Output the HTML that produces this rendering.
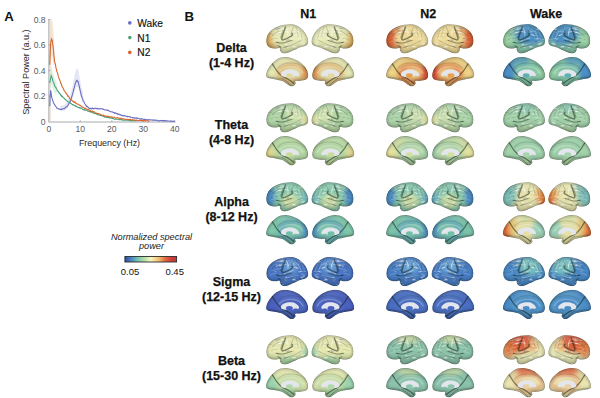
<!DOCTYPE html>
<html><head><meta charset="utf-8"><style>
html,body{margin:0;padding:0;background:#fff;}
svg{display:block;}
</style></head><body>
<svg width="600" height="398" viewBox="0 0 600 398">
<defs><path id="sL" d="M0.40,16.50 C0.45,15.08 0.62,13.12 1.30,11.50 C1.98,9.88 3.05,8.17 4.50,6.80 C5.95,5.43 7.75,4.30 10.00,3.30 C12.25,2.30 15.50,1.32 18.00,0.80 C20.50,0.28 23.00,0.13 25.00,0.20 C27.00,0.27 28.33,0.53 30.00,1.20 C31.67,1.87 33.50,2.98 35.00,4.20 C36.50,5.42 37.90,6.95 39.00,8.50 C40.10,10.05 41.07,12.00 41.60,13.50 C42.13,15.00 42.23,16.42 42.20,17.50 C42.17,18.58 41.93,19.32 41.40,20.00 C40.87,20.68 39.90,21.20 39.00,21.60 C38.10,22.00 37.33,21.97 36.00,22.40 C34.67,22.83 32.50,23.60 31.00,24.20 C29.50,24.80 28.50,25.33 27.00,26.00 C25.50,26.67 23.42,27.72 22.00,28.20 C20.58,28.68 19.58,28.93 18.50,28.90 C17.42,28.87 16.25,28.57 15.50,28.00 C14.75,27.43 14.33,26.23 14.00,25.50 C13.67,24.77 14.17,23.85 13.50,23.60 C12.83,23.35 11.25,23.97 10.00,24.00 C8.75,24.03 7.17,24.05 6.00,23.80 C4.83,23.55 3.83,23.13 3.00,22.50 C2.17,21.87 1.43,21.00 1.00,20.00 C0.57,19.00 0.35,17.92 0.40,16.50 Z"/><path id="sM" d="M0.15,16.80 C0.32,15.71 0.68,14.07 1.50,12.45 C2.32,10.83 3.71,8.68 5.05,7.10 C6.39,5.52 8.04,4.01 9.55,2.95 C11.06,1.89 12.44,1.18 14.10,0.73 C15.76,0.28 17.56,0.12 19.50,0.25 C21.44,0.38 23.65,0.78 25.75,1.50 C27.85,2.23 30.23,3.35 32.10,4.60 C33.98,5.85 35.70,7.41 37.00,9.00 C38.30,10.59 39.33,12.53 39.90,14.15 C40.47,15.77 40.64,17.44 40.40,18.70 C40.16,19.96 39.68,21.01 38.45,21.70 C37.22,22.39 34.71,22.61 33.00,22.85 C31.29,23.09 28.96,22.72 28.20,23.15 C27.44,23.58 28.74,24.68 28.45,25.45 C28.16,26.22 27.34,27.37 26.45,27.75 C25.56,28.13 24.31,28.18 23.10,27.75 C21.89,27.32 20.52,26.01 19.20,25.20 C17.88,24.39 16.90,23.52 15.20,22.90 C13.50,22.28 11.03,21.91 9.00,21.50 C6.97,21.09 4.42,20.87 3.00,20.45 C1.58,20.03 0.98,19.61 0.50,19.00 C0.02,18.39 -0.02,17.89 0.15,16.80 Z"/><clipPath id="clipL"><use href="#sL"/></clipPath><clipPath id="clipM"><use href="#sM"/></clipPath><linearGradient id="shade" x1="0" y1="0" x2="0" y2="1"><stop offset="0" stop-color="#fff" stop-opacity="0.12"/><stop offset="0.5" stop-color="#000" stop-opacity="0"/><stop offset="1" stop-color="#000" stop-opacity="0.18"/></linearGradient><g id="detL"><rect x="0" y="0" width="43" height="30" fill="url(#shade)"/><rect x="0" y="0" width="43" height="30" fill="#fff" opacity="0.95" filter="url(#texW)"/><rect x="0" y="0" width="43" height="30" fill="#000" opacity="0.5" filter="url(#texD)"/><path d="M21,5 C22,7 22.5,9 22,11" fill="none" stroke="#fff" stroke-opacity="0.5" stroke-width="1.0" stroke-linecap="round"/><path d="M18,16.8 C21,16 24,15 27,13.5" fill="none" stroke="#fff" stroke-opacity="0.45" stroke-width="0.9" stroke-linecap="round"/><path d="M30,6 C32,8 34,10 35,13" fill="none" stroke="#fff" stroke-opacity="0.4" stroke-width="0.8" stroke-linecap="round"/><path d="M33,15 C35,17 37,18 39,18" fill="none" stroke="#fff" stroke-opacity="0.35" stroke-width="0.7" stroke-linecap="round"/><path d="M20,21 C24,20 28,19 32,18" fill="none" stroke="#fff" stroke-opacity="0.4" stroke-width="0.8" stroke-linecap="round"/><path d="M7,14 C9,12.5 11,12 13,12" fill="none" stroke="#fff" stroke-opacity="0.35" stroke-width="0.7" stroke-linecap="round"/><path d="M12,4 C15,3 18,3 20,4" fill="none" stroke="#fff" stroke-opacity="0.35" stroke-width="0.7" stroke-linecap="round"/><path d="M26,4 C27,6 28,8 29,10" fill="none" stroke="#fff" stroke-opacity="0.4" stroke-width="0.7" stroke-linecap="round"/><path d="M4,18 C6,17 8,16.5 10,16.5" fill="none" stroke="#fff" stroke-opacity="0.3" stroke-width="0.6" stroke-linecap="round"/><path d="M9,8 C11,7 13,7 15,8" fill="none" stroke="#fff" stroke-opacity="0.3" stroke-width="0.6" stroke-linecap="round"/><path d="M36,7 C37,9 38,11 38.5,13" fill="none" stroke="#fff" stroke-opacity="0.3" stroke-width="0.6" stroke-linecap="round"/><path d="M19.5,3 C18,7 16.5,11 15.8,14.2 C15.6,15.5 16.5,15.8 18,15.3 C21,14.3 24,13 25.5,11.8 C26.5,11 26.8,10 26,9.5" fill="none" stroke="#101808" stroke-opacity="0.5" stroke-width="1.4" stroke-linecap="round"/><path d="M17,6.3 C16,9 15,11.5 14.6,13.7" fill="none" stroke="#101808" stroke-opacity="0.35" stroke-width="0.8" stroke-linecap="round"/><path d="M10.4,17.9 C13,18.6 15,18.8 17,18.7 C20,18.3 23,17 25.3,16.2" fill="none" stroke="#101808" stroke-opacity="0.4" stroke-width="1.0" stroke-linecap="round"/><path d="M6.3,11.3 C8.5,9.5 10.5,8 12.9,7.1" fill="none" stroke="#101808" stroke-opacity="0.3" stroke-width="0.7" stroke-linecap="round"/><path d="M12,21.2 C13,21.8 14,22.5 14.6,22.9" fill="none" stroke="#101808" stroke-opacity="0.4" stroke-width="1.0" stroke-linecap="round"/><path d="M18,23 C23,21.5 29,19.5 35,16" fill="none" stroke="#101808" stroke-opacity="0.28" stroke-width="0.7" stroke-linecap="round"/><path d="M27,4 C26,6 25.5,8 25,10" fill="none" stroke="#101808" stroke-opacity="0.28" stroke-width="0.7" stroke-linecap="round"/><path d="M30,3 C31,6 32,9 32,12" fill="none" stroke="#101808" stroke-opacity="0.22" stroke-width="0.6" stroke-linecap="round"/><path d="M34,6 C35,9 36,12 36,15" fill="none" stroke="#101808" stroke-opacity="0.2" stroke-width="0.6" stroke-linecap="round"/><path d="M5,15.5 C7,14.5 9,14 11,14.2" fill="none" stroke="#101808" stroke-opacity="0.22" stroke-width="0.6" stroke-linecap="round"/><path d="M8,4.5 C10,4 12,4 14,4.5" fill="none" stroke="#101808" stroke-opacity="0.2" stroke-width="0.5" stroke-linecap="round"/><use href="#sL" fill="none" stroke="#000" stroke-opacity="0.22" stroke-width="3" filter="url(#bl1)"/><use href="#sL" fill="none" stroke="#101810" stroke-opacity="0.25" stroke-width="0.8"/></g><g id="detM"><rect x="0" y="0" width="43" height="30" fill="url(#shade)"/><path d="M13,13.5 C16,10 21.5,9 26.5,9.5 C31,10 34,12.5 35.5,15.5" fill="none" stroke="#fff" stroke-opacity="0.25" stroke-width="1.3" stroke-linecap="round"/><path d="M5.7,6.3 C7.5,8.5 9,11.5 10.5,13.5 C12,15.5 13.5,17 15,18 C17.5,19.5 20,20.5 22,21.8 C24,23 25.5,24.2 26.5,25.2" fill="none" stroke="#101808" stroke-opacity="0.5" stroke-width="1.2" stroke-linecap="round"/><path d="M16,20.5 C19,22.5 22,25 24,27.5" fill="none" stroke="#101808" stroke-opacity="0.3" stroke-width="0.8" stroke-linecap="round"/><path d="M11,11 C14,7 20,5.5 26,6 C32,6.5 37,9.5 39.5,13.5" fill="none" stroke="#101808" stroke-opacity="0.15" stroke-width="1.0" stroke-linecap="round"/><path d="M2,19.5 C7,20 12,20.5 16.5,21" fill="none" stroke="#101808" stroke-opacity="0.2" stroke-width="0.7" stroke-linecap="round"/><use href="#sM" fill="none" stroke="#000" stroke-opacity="0.22" stroke-width="3" filter="url(#bl1)"/><use href="#sM" fill="none" stroke="#101810" stroke-opacity="0.25" stroke-width="0.8"/><path d="M13.8,15.5 C14.5,12.5 18.5,11 23,11 C27,11 30.2,13 31.3,15.8 C31.3,17 30.5,17.5 29.6,17.2 C28.6,16.8 27.5,16.6 26.4,17.2 C25.6,18 24.5,18.3 23,18.3 C19,18.3 15.5,17.8 14.3,16.8 C13.9,16.4 13.7,16 13.8,15.5 Z" fill="#e4e6ee" transform="translate(0.5,1.2)"/></g><filter id="bl" x="-50%" y="-50%" width="200%" height="200%"><feGaussianBlur stdDeviation="2.2"/></filter><filter id="texW" x="0" y="0" width="43" height="30" filterUnits="userSpaceOnUse"><feTurbulence type="turbulence" baseFrequency="0.12 0.3" numOctaves="2" seed="5"/><feColorMatrix type="matrix" values="0 0 0 0 1 0 0 0 0 1 0 0 0 0 1 2.6 0 0 0 -1.0"/><feGaussianBlur stdDeviation="0.35"/></filter><filter id="texD" x="0" y="0" width="43" height="30" filterUnits="userSpaceOnUse"><feTurbulence type="turbulence" baseFrequency="0.12 0.28" numOctaves="2" seed="11"/><feColorMatrix type="matrix" values="0 0 0 0 0 0 0 0 0 0 0 0 0 0 0 2.0 0 0 0 -0.95"/><feComponentTransfer><feFuncA type="table" tableValues="0 0.45 0.5"/></feComponentTransfer><feGaussianBlur stdDeviation="0.35"/></filter><filter id="bl1" x="-20%" y="-20%" width="140%" height="140%"><feGaussianBlur stdDeviation="0.8"/></filter></defs>
<rect width="600" height="398" fill="#fff"/>
<g font-family='"Liberation Sans", sans-serif'><text x="4.2" y="20.7" font-size="13.2" font-weight="bold" fill="#111">A</text><text x="184.4" y="20.7" font-size="13.2" font-weight="bold" fill="#111">B</text><polygon points="60.45,105.68 61.40,105.49 62.34,105.31 63.29,105.13 64.23,104.68 65.18,103.68 66.12,102.69 67.07,101.69 68.01,99.83 68.96,97.96 69.90,95.68 70.85,92.57 71.79,89.46 72.74,85.11 73.68,80.13 74.63,75.15 75.57,71.81 76.52,68.47 77.47,68.49 78.41,70.18 79.36,75.98 80.30,81.37 81.25,86.77 82.19,90.32 83.14,93.87 83.14,103.47 82.19,101.15 81.25,98.82 80.30,95.30 79.36,91.77 78.41,87.98 77.47,86.87 76.52,86.86 75.57,89.05 74.63,91.23 73.68,94.49 72.74,97.74 71.79,100.59 70.85,102.62 69.90,104.65 68.96,106.14 68.01,107.36 67.07,108.58 66.12,109.24 65.18,109.89 64.23,110.54 63.29,110.83 62.34,110.95 61.40,111.07 60.45,111.19" fill="#dfe0f0" opacity="0.8"/><polygon points="49.74,49.83 50.06,40.79 50.38,31.75 50.69,22.71 51.00,21.51 51.32,20.32 51.63,19.12 51.95,17.92 52.26,20.58 52.58,23.24 52.89,25.90 53.21,29.73 53.52,33.56 53.84,37.38 54.16,41.21 54.16,70.15 53.84,67.70 53.52,65.25 53.21,62.80 52.89,60.35 52.58,58.65 52.26,56.95 51.95,55.25 51.63,56.01 51.32,56.78 51.00,57.54 50.69,58.31 50.38,64.09 50.06,69.88 49.74,75.66" fill="#f6dcc8" opacity="0.8"/><polygon points="49.74,75.66 50.06,73.55 50.38,71.43 50.69,69.31 51.00,67.19 51.32,66.09 51.63,67.33 51.95,68.58 52.26,69.82 52.58,71.07 52.89,72.30 53.21,73.52 53.52,74.75 53.84,75.97 54.16,77.20 54.47,77.88 54.78,78.56 55.10,79.24 55.41,79.92 55.73,80.60 56.05,81.28 56.36,81.96 56.67,82.64 56.67,95.63 56.36,95.17 56.05,94.72 55.73,94.27 55.41,93.81 55.10,93.36 54.78,92.90 54.47,92.45 54.16,92.00 53.84,91.18 53.52,90.36 53.21,89.55 52.89,88.73 52.58,87.91 52.26,87.08 51.95,86.25 51.63,85.42 51.32,84.59 51.00,85.33 50.69,86.74 50.38,88.15 50.06,89.56 49.74,90.98" fill="#d8eee4" opacity="0.8"/><rect x="48.6" y="20" width="2.4" height="101" fill="#e8d8c0" opacity="0.6"/><line x1="48.8" y1="19" x2="48.8" y2="121.9" stroke="#bcc0c4" stroke-width="1.3"/><line x1="48.2" y1="121.9" x2="175.5" y2="121.9" stroke="#c4c6c8" stroke-width="1.5"/><g stroke="#888" stroke-width="0.7"><line x1="48.8" y1="96.08" x2="50.3" y2="96.08"/><line x1="48.8" y1="70.56" x2="50.3" y2="70.56"/><line x1="48.8" y1="45.04" x2="50.3" y2="45.04"/><line x1="48.8" y1="19.52" x2="50.3" y2="19.52"/><line x1="80.30" y1="121.9" x2="80.30" y2="120.4"/><line x1="111.80" y1="121.9" x2="111.80" y2="120.4"/><line x1="143.30" y1="121.9" x2="143.30" y2="120.4"/><line x1="174.80" y1="121.9" x2="174.80" y2="120.4"/></g><g font-size="8.6" fill="#5a5a5a" text-anchor="end"><text x="45.6" y="124.70">0</text><text x="45.6" y="99.18">0.2</text><text x="45.6" y="73.66">0.4</text><text x="45.6" y="48.14">0.6</text><text x="45.6" y="22.62">0.8</text></g><g font-size="8.6" fill="#5a5a5a" text-anchor="middle"><text x="48.80" y="132.2">0</text><text x="80.30" y="132.2">10</text><text x="111.80" y="132.2">20</text><text x="143.30" y="132.2">30</text><text x="174.80" y="132.2">40</text></g><text x="109.5" y="145.8" font-size="8.9" fill="#2a2a2a" text-anchor="middle">Frequency (Hz)</text><text transform="translate(28.6,72.1) rotate(-90)" font-size="9.1" fill="#2a2a2a" text-anchor="middle">Spectral Power (a.u.)</text><polyline points="49.74,106.21 50.22,95.37 50.69,90.38 51.16,93.53 51.63,96.95 52.11,98.69 52.58,99.84 53.05,101.68 53.52,102.45 54.00,103.81 54.47,104.36 54.94,105.07 55.41,106.08 55.89,106.57 56.36,106.92 56.83,108.00 57.30,108.23 57.78,108.63 58.25,108.84 58.72,109.06 59.19,108.69 59.67,109.35 60.14,109.43 60.61,109.41 61.08,108.98 61.56,109.51 62.03,109.16 62.50,109.01 62.97,108.69 63.45,108.67 63.92,108.56 64.39,108.63 64.87,108.14 65.34,107.80 65.81,107.01 66.28,106.57 66.76,106.82 67.23,106.31 67.70,105.55 68.17,104.83 68.65,103.91 69.12,103.10 69.59,102.66 70.06,101.69 70.54,100.14 71.01,98.99 71.48,97.62 71.95,96.06 72.43,94.63 72.90,92.88 73.37,90.86 73.84,88.89 74.32,87.61 74.79,85.03 75.26,83.86 75.73,82.47 76.21,81.26 76.68,80.42 77.15,80.42 77.62,81.40 78.10,81.46 78.57,83.26 79.04,85.48 79.51,87.50 79.99,89.61 80.46,91.50 80.93,93.85 81.40,95.72 81.88,96.94 82.35,98.35 82.82,99.48 83.29,101.14 83.77,101.38 84.24,102.36 84.71,103.52 85.18,104.20 85.66,104.88 86.13,105.63 86.60,106.59 87.07,106.34 87.55,106.55 88.02,107.29 88.49,107.60 88.96,108.24 89.44,108.55 89.91,108.58 90.38,108.64 90.85,108.20 91.33,108.72 91.80,108.82 92.27,108.11 92.74,108.44 93.22,108.73 93.69,108.42 94.16,108.82 94.63,108.44 95.11,108.09 95.58,108.18 96.05,108.31 96.52,108.66 97.00,108.63 97.47,108.84 97.94,108.43 98.41,108.66 98.89,108.53 99.36,108.93 99.83,109.06 100.30,108.67 100.78,108.59 101.25,108.74 101.72,108.83 102.19,108.88 102.67,108.99 103.14,109.43 103.61,109.27 104.08,109.44 104.56,109.81 105.03,109.98 105.50,109.95 105.97,110.12 106.45,109.96 106.92,109.92 107.39,110.46 107.86,110.26 108.33,110.38 108.81,110.57 109.28,111.17 109.75,111.44 110.22,111.59 110.70,111.78 111.17,111.94 111.64,111.79 112.11,111.76 112.59,111.97 113.06,112.39 113.53,112.43 114.00,112.49 114.48,113.17 114.95,112.92 115.42,112.90 115.89,113.16 116.37,113.35 116.84,113.70 117.31,114.08 117.78,113.81 118.26,114.30 118.73,114.13 119.20,114.18 119.67,114.75 120.15,114.91 120.62,114.69 121.09,115.01 121.56,115.51 122.04,115.64 122.51,115.71 122.98,115.29 123.45,115.46 123.93,116.00 124.40,115.64 124.87,115.63 125.34,115.94 125.82,116.25 126.29,116.21 126.76,116.59 127.23,116.76 127.71,116.21 128.18,116.52 128.65,116.70 129.12,116.52 129.60,116.95 130.07,116.76 130.54,116.88 131.01,117.39 131.49,117.46 131.96,117.53 132.43,117.66 132.90,117.52 133.38,117.84 133.85,117.83 134.32,118.09 134.79,117.65 135.27,118.08 135.74,118.09 136.21,118.08 136.68,117.94 137.16,118.33 137.63,118.07 138.10,118.42 138.57,118.47 139.05,118.55 139.52,118.95 139.99,118.74 140.46,118.98 140.94,119.17 141.41,118.73 141.88,119.20 142.35,119.08 142.83,118.99 143.30,119.17 143.77,119.39 144.24,119.34 144.72,119.39 145.19,119.31 145.66,119.82 146.13,119.60 146.61,119.86 147.08,119.87 147.55,119.59 148.02,119.79 148.50,119.79 148.97,119.70 149.44,119.64 149.91,119.97 150.39,119.89 150.86,120.00 151.33,120.02 151.80,119.94 152.28,120.13 152.75,120.11 153.22,120.18 153.69,119.92 154.17,120.11 154.64,120.03 155.11,120.02 155.58,120.48 156.06,120.33 156.53,120.12 157.00,120.22 157.47,120.69 157.95,120.74 158.42,120.57 158.89,120.84 159.36,120.75 159.84,120.88 160.31,120.52 160.78,120.47 161.25,120.42 161.73,120.90 162.20,120.57 162.67,120.63 163.14,120.97 163.62,120.53 164.09,120.49 164.56,120.98 165.03,120.54 165.51,120.90 165.98,120.87 166.45,120.57 166.92,120.69 167.40,121.13 167.87,120.98 168.34,120.95 168.81,121.07 169.29,121.18 169.76,121.13 170.23,120.89 170.70,121.35 171.18,121.04 171.65,121.13 172.12,121.41 172.59,121.23 173.07,121.07 173.54,121.16 174.01,121.45 174.48,120.91" fill="none" stroke="#6b6ec4" stroke-width="1.1"/><polyline points="49.74,83.01 50.22,80.15 50.69,78.47 51.16,75.65 51.63,76.91 52.11,77.62 52.58,79.75 53.05,81.43 53.52,82.64 54.00,83.65 54.47,84.83 54.94,86.26 55.41,87.23 55.89,87.29 56.36,88.49 56.83,89.22 57.30,90.57 57.78,91.29 58.25,91.37 58.72,92.32 59.19,93.36 59.67,93.23 60.14,94.21 60.61,94.67 61.08,95.78 61.56,95.51 62.03,96.67 62.50,96.39 62.97,97.20 63.45,97.75 63.92,98.00 64.39,98.11 64.87,99.09 65.34,99.60 65.81,99.63 66.28,100.26 66.76,100.76 67.23,101.09 67.70,101.57 68.17,101.82 68.65,102.11 69.12,102.40 69.59,102.31 70.06,102.99 70.54,103.10 71.01,103.65 71.48,103.80 71.95,104.36 72.43,104.45 72.90,104.93 73.37,104.63 73.84,105.07 74.32,105.65 74.79,105.70 75.26,105.62 75.73,106.57 76.21,106.29 76.68,106.88 77.15,107.05 77.62,106.95 78.10,107.47 78.57,107.55 79.04,107.59 79.51,107.53 79.99,108.20 80.46,107.99 80.93,108.26 81.40,108.49 81.88,108.84 82.35,109.06 82.82,109.46 83.29,109.57 83.77,109.79 84.24,109.45 84.71,109.99 85.18,110.23 85.66,110.46 86.13,110.07 86.60,110.22 87.07,110.53 87.55,110.99 88.02,111.18 88.49,111.30 88.96,111.34 89.44,111.73 89.91,111.68 90.38,111.97 90.85,111.63 91.33,111.78 91.80,112.25 92.27,112.64 92.74,112.28 93.22,112.92 93.69,113.05 94.16,113.48 94.63,113.38 95.11,113.48 95.58,113.63 96.05,114.01 96.52,113.97 97.00,114.49 97.47,114.48 97.94,114.77 98.41,114.72 98.89,115.14 99.36,115.32 99.83,115.30 100.30,115.52 100.78,115.44 101.25,115.65 101.72,115.67 102.19,115.91 102.67,116.04 103.14,116.10 103.61,116.60 104.08,116.81 104.56,116.49 105.03,117.15 105.50,116.87 105.97,117.03 106.45,117.53 106.92,117.10 107.39,117.17 107.86,117.44 108.33,117.48 108.81,117.52 109.28,118.07 109.75,117.92 110.22,118.03 110.70,117.92 111.17,118.04 111.64,118.13 112.11,118.39 112.59,118.29 113.06,118.52 113.53,118.62 114.00,119.02 114.48,119.25 114.95,119.28 115.42,119.19 115.89,119.40 116.37,118.99 116.84,119.21 117.31,119.22 117.78,119.27 118.26,119.29 118.73,119.46 119.20,119.82 119.67,119.37 120.15,119.45 120.62,119.66 121.09,119.69 121.56,119.66 122.04,120.09 122.51,119.71 122.98,120.07 123.45,120.24 123.93,120.17 124.40,119.92 124.87,120.28 125.34,119.98 125.82,119.86 126.29,120.19 126.76,120.29 127.23,120.25 127.71,120.15 128.18,120.13 128.65,120.25 129.12,120.27 129.60,120.65 130.07,120.63 130.54,120.60 131.01,120.32 131.49,120.62 131.96,120.49 132.43,120.86 132.90,120.86 133.38,120.76 133.85,120.54 134.32,120.55 134.79,120.59 135.27,120.86 135.74,120.75 136.21,120.81 136.68,120.84" fill="none" stroke="#47a47a" stroke-width="1.1"/><polyline points="49.74,64.68 50.22,52.77 50.69,42.96 51.16,40.30 51.63,38.92 52.11,40.49 52.58,42.98 53.05,46.09 53.52,50.48 54.00,55.83 54.47,60.66 54.94,62.97 55.41,64.24 55.89,67.42 56.36,69.18 56.83,71.40 57.30,72.60 57.78,73.77 58.25,76.41 58.72,77.29 59.19,79.00 59.67,79.78 60.14,81.18 60.61,82.89 61.08,83.37 61.56,84.93 62.03,86.37 62.50,87.34 62.97,87.79 63.45,88.79 63.92,89.90 64.39,90.82 64.87,91.38 65.34,92.17 65.81,92.44 66.28,94.00 66.76,94.06 67.23,94.70 67.70,96.01 68.17,95.92 68.65,96.76 69.12,97.23 69.59,98.43 70.06,98.99 70.54,99.62 71.01,99.40 71.48,100.06 71.95,100.56 72.43,100.81 72.90,101.25 73.37,101.75 73.84,102.01 74.32,101.69 74.79,102.46 75.26,102.22 75.73,103.10 76.21,103.40 76.68,103.50 77.15,104.06 77.62,104.20 78.10,104.01 78.57,104.36 79.04,104.72 79.51,105.16 79.99,105.22 80.46,105.49 80.93,106.10 81.40,106.25 81.88,107.08 82.35,106.83 82.82,107.34 83.29,107.40 83.77,107.71 84.24,108.19 84.71,108.57 85.18,108.09 85.66,108.90 86.13,108.83 86.60,109.13 87.07,109.36 87.55,109.22 88.02,109.24 88.49,109.98 88.96,109.88 89.44,110.34 89.91,110.35 90.38,110.67 90.85,111.03 91.33,111.23 91.80,111.40 92.27,111.08 92.74,111.58 93.22,111.98 93.69,111.65 94.16,111.76 94.63,112.34 95.11,112.73 95.58,112.87 96.05,113.12 96.52,113.11 97.00,113.47 97.47,113.54 97.94,113.70 98.41,113.65 98.89,113.60 99.36,113.87 99.83,114.29 100.30,114.46 100.78,114.56 101.25,114.84 101.72,115.04 102.19,115.40 102.67,115.43 103.14,115.13 103.61,115.88 104.08,115.80 104.56,115.82 105.03,115.74 105.50,116.26 105.97,116.31 106.45,116.40 106.92,116.38 107.39,116.43 107.86,116.16 108.33,116.31 108.81,116.38 109.28,117.03 109.75,117.10 110.22,116.73 110.70,116.68 111.17,117.05 111.64,117.05 112.11,117.51 112.59,117.33 113.06,117.04 113.53,117.18 114.00,117.23 114.48,117.23 114.95,117.78 115.42,117.94 115.89,117.98 116.37,117.81 116.84,117.78 117.31,117.68 117.78,117.90 118.26,118.02 118.73,118.01 119.20,118.29 119.67,118.30 120.15,118.70 120.62,118.29 121.09,118.72 121.56,118.35 122.04,118.59 122.51,118.89 122.98,119.07 123.45,119.06 123.93,118.89 124.40,118.92 124.87,119.35 125.34,119.42 125.82,119.18 126.29,119.19 126.76,119.36 127.23,119.51 127.71,119.32 128.18,119.74 128.65,119.61 129.12,119.55 129.60,119.28 130.07,119.53 130.54,119.43 131.01,119.73 131.49,119.93 131.96,119.97 132.43,119.57 132.90,119.78 133.38,120.08 133.85,120.31 134.32,120.05 134.79,119.99 135.27,120.20 135.74,120.35 136.21,120.14 136.68,120.03 137.16,120.50 137.63,120.65 138.10,120.48 138.57,120.45 139.05,120.31 139.52,120.64 139.99,120.29 140.46,120.35 140.94,120.52 141.41,120.73 141.88,120.28 142.35,120.71 142.83,120.42 143.30,120.81 143.77,120.84 144.24,120.53 144.72,120.84 145.19,120.46 145.66,120.77 146.13,120.98 146.61,120.98 147.08,120.89 147.55,120.76 148.02,120.60 148.50,121.13 148.97,121.00 149.44,121.13" fill="none" stroke="#d8662c" stroke-width="1.1"/><circle cx="129.8" cy="22.9" r="1.8" fill="#6a6ec4"/><circle cx="129.8" cy="37.6" r="1.8" fill="#4fa577"/><circle cx="129.8" cy="52.4" r="1.8" fill="#d8652b"/><g font-size="10.2" fill="#111" stroke="#111" stroke-width="0.15"><text x="137.3" y="26.9">Wake</text><text x="137.3" y="41.6">N1</text><text x="137.3" y="56.3">N2</text></g></g>
<defs><linearGradient id="cmap" x1="0" x2="1" y1="0" y2="0">
<stop offset="0" stop-color="#2e4a9e"/><stop offset="0.12" stop-color="#4a86c4"/><stop offset="0.25" stop-color="#74c4b4"/>
<stop offset="0.38" stop-color="#b8e0a4"/><stop offset="0.5" stop-color="#f8f8c4"/><stop offset="0.65" stop-color="#f2c070"/>
<stop offset="0.78" stop-color="#e46a40"/><stop offset="0.9" stop-color="#cc3c3c"/><stop offset="1" stop-color="#c03838"/></linearGradient></defs>
<g font-family='"Liberation Sans", sans-serif'>
<text x="151.5" y="240" font-size="9.2" font-style="italic" fill="#222" text-anchor="middle">Normalized spectral</text>
<text x="151.5" y="248.7" font-size="9.2" font-style="italic" fill="#222" text-anchor="middle">power</text>
<rect x="124.9" y="256.5" width="51.7" height="5.5" fill="url(#cmap)" stroke="#2a2a2a" stroke-width="0.9"/>
<text x="130" y="275" font-size="9.5" fill="#111" text-anchor="middle">0.05</text>
<text x="174.7" y="275" font-size="9.5" fill="#111" text-anchor="middle">0.45</text>
</g>
<g font-family='"Liberation Sans", sans-serif' font-weight='bold' font-size='12.5' fill='#111' stroke='#111' stroke-width='0.25' text-anchor='middle'><text x="308.3" y="18">N1</text><text x="428.3" y="18">N2</text><text x="546" y="18">Wake</text><text x="231.5" y="52">Delta</text><text x="231.5" y="67.3">(1-4 Hz)</text><text x="231.5" y="129">Theta</text><text x="231.5" y="144.3">(4-8 Hz)</text><text x="231.5" y="205.7">Alpha</text><text x="231.5" y="221.0">(8-12 Hz)</text><text x="231.5" y="286">Sigma</text><text x="231.5" y="301.3">(12-15 Hz)</text><text x="231.5" y="364.7">Beta</text><text x="231.5" y="380.0">(15-30 Hz)</text></g>
<g transform="translate(266.00,24.00) scale(1.0,1.02)"><g clip-path="url(#clipL)"><use href="#sL" fill="#e8ebb6"/><g filter="url(#bl)"><ellipse cx="1" cy="16" rx="5" ry="11" fill="#d8a050" opacity="0.85"/><ellipse cx="6" cy="22" rx="5" ry="3" fill="#d09040" opacity="0.6"/><ellipse cx="28" cy="8" rx="10" ry="7" fill="#f0f2c8" opacity="0.6"/></g><use href="#detL"/></g></g><g transform="translate(353.80,24.00) scale(-1.0,1.02)"><g clip-path="url(#clipL)"><use href="#sL" fill="#e8ebb6"/><g filter="url(#bl)"><ellipse cx="1" cy="16" rx="5" ry="11" fill="#d8a050" opacity="0.85"/><ellipse cx="6" cy="22" rx="5" ry="3" fill="#d09040" opacity="0.6"/><ellipse cx="28" cy="8" rx="10" ry="7" fill="#f0f2c8" opacity="0.6"/></g><use href="#detL"/></g></g><g transform="translate(266.00,56.80) scale(1.04,1.05)"><g clip-path="url(#clipM)"><use href="#sM" fill="#e6e8b4"/><g filter="url(#bl)"><ellipse cx="24.5" cy="16.0" rx="12" ry="8" fill="none" stroke="#e3a05a" stroke-width="3.5" opacity="0.85"/><ellipse cx="39" cy="15" rx="4" ry="8" fill="#e09050" opacity="0.9"/></g><use href="#detM"/><ellipse cx="22.5" cy="17.8" rx="3.3" ry="2.2" fill="#e4d8a0"/></g></g><g transform="translate(354.40,56.80) scale(-1.04,1.05)"><g clip-path="url(#clipM)"><use href="#sM" fill="#e6e8b4"/><g filter="url(#bl)"><ellipse cx="24.5" cy="16.0" rx="12" ry="8" fill="none" stroke="#e3a05a" stroke-width="3.5" opacity="0.85"/><ellipse cx="39" cy="15" rx="4" ry="8" fill="#e09050" opacity="0.9"/></g><use href="#detM"/><ellipse cx="22.5" cy="17.8" rx="3.3" ry="2.2" fill="#e4d8a0"/></g></g><g transform="translate(266.00,103.00) scale(1.0,1.02)"><g clip-path="url(#clipL)"><use href="#sL" fill="#b0d6a6"/><g filter="url(#bl)"><ellipse cx="40" cy="17" rx="4" ry="7" fill="#e8e2a0" opacity="0.9"/><ellipse cx="24" cy="25" rx="8" ry="3" fill="#c8e0a0" opacity="0.6"/><ellipse cx="29" cy="12" rx="9" ry="8" fill="#dce8b4" opacity="0.75"/></g><use href="#detL"/></g></g><g transform="translate(353.80,103.00) scale(-1.0,1.02)"><g clip-path="url(#clipL)"><use href="#sL" fill="#b0d6a6"/><g filter="url(#bl)"><ellipse cx="40" cy="17" rx="4" ry="7" fill="#e8e2a0" opacity="0.9"/><ellipse cx="24" cy="25" rx="8" ry="3" fill="#c8e0a0" opacity="0.6"/><ellipse cx="29" cy="12" rx="9" ry="8" fill="#dce8b4" opacity="0.75"/></g><use href="#detL"/></g></g><g transform="translate(266.00,135.80) scale(1.04,1.05)"><g clip-path="url(#clipM)"><use href="#sM" fill="#bcdca8"/><g filter="url(#bl)"><ellipse cx="3" cy="18" rx="5" ry="8" fill="#e8d890" opacity="0.95"/><ellipse cx="22" cy="26" rx="6" ry="3" fill="#d8e4a0" opacity="0.7"/><ellipse cx="24.5" cy="16.0" rx="12" ry="8" fill="none" stroke="#a8d4a4" stroke-width="3" opacity="0.6"/></g><use href="#detM"/><ellipse cx="22.5" cy="17.8" rx="3.3" ry="2.2" fill="#c8dc98"/></g></g><g transform="translate(354.40,135.80) scale(-1.04,1.05)"><g clip-path="url(#clipM)"><use href="#sM" fill="#bcdca8"/><g filter="url(#bl)"><ellipse cx="3" cy="18" rx="5" ry="8" fill="#e8d890" opacity="0.95"/><ellipse cx="22" cy="26" rx="6" ry="3" fill="#d8e4a0" opacity="0.7"/><ellipse cx="24.5" cy="16.0" rx="12" ry="8" fill="none" stroke="#a8d4a4" stroke-width="3" opacity="0.6"/></g><use href="#detM"/><ellipse cx="22.5" cy="17.8" rx="3.3" ry="2.2" fill="#c8dc98"/></g></g><g transform="translate(266.00,182.00) scale(1.0,1.02)"><g clip-path="url(#clipL)"><use href="#sL" fill="#88cab0"/><g filter="url(#bl)"><ellipse cx="3" cy="14" rx="6" ry="11" fill="#4a88c4" opacity="0.95"/><ellipse cx="24" cy="19" rx="9" ry="7" fill="#d8e4a8" opacity="0.9"/><ellipse cx="30" cy="4" rx="8" ry="5" fill="#90d0b0" opacity="0.6"/><ellipse cx="40" cy="16" rx="4" ry="6" fill="#6aaec0" opacity="0.7"/></g><use href="#detL"/></g></g><g transform="translate(353.80,182.00) scale(-1.0,1.02)"><g clip-path="url(#clipL)"><use href="#sL" fill="#88cab0"/><g filter="url(#bl)"><ellipse cx="3" cy="14" rx="6" ry="11" fill="#4a88c4" opacity="0.95"/><ellipse cx="24" cy="19" rx="9" ry="7" fill="#d8e4a8" opacity="0.9"/><ellipse cx="30" cy="4" rx="8" ry="5" fill="#90d0b0" opacity="0.6"/><ellipse cx="40" cy="16" rx="4" ry="6" fill="#6aaec0" opacity="0.7"/></g><use href="#detL"/></g></g><g transform="translate(266.00,214.80) scale(1.04,1.05)"><g clip-path="url(#clipM)"><use href="#sM" fill="#80c8ac"/><g filter="url(#bl)"><ellipse cx="39" cy="15" rx="4" ry="9" fill="#4a88c4" opacity="0.95"/><ellipse cx="26.5" cy="15.0" rx="13" ry="9" fill="none" stroke="#5a9ec4" stroke-width="3.5" opacity="0.8"/></g><use href="#detM"/><ellipse cx="22.5" cy="17.8" rx="3.3" ry="2.2" fill="#70c0a8"/></g></g><g transform="translate(354.40,214.80) scale(-1.04,1.05)"><g clip-path="url(#clipM)"><use href="#sM" fill="#80c8ac"/><g filter="url(#bl)"><ellipse cx="39" cy="15" rx="4" ry="9" fill="#4a88c4" opacity="0.95"/><ellipse cx="26.5" cy="15.0" rx="13" ry="9" fill="none" stroke="#5a9ec4" stroke-width="3.5" opacity="0.8"/></g><use href="#detM"/><ellipse cx="22.5" cy="17.8" rx="3.3" ry="2.2" fill="#70c0a8"/></g></g><g transform="translate(266.00,256.70) scale(1.0,1.02)"><g clip-path="url(#clipL)"><use href="#sL" fill="#4a78c8"/><g filter="url(#bl)"><ellipse cx="24" cy="10" rx="8" ry="7" fill="#78b0e0" opacity="0.65"/></g><use href="#detL"/></g></g><g transform="translate(353.80,256.70) scale(-1.0,1.02)"><g clip-path="url(#clipL)"><use href="#sL" fill="#4a78c8"/><g filter="url(#bl)"><ellipse cx="24" cy="10" rx="8" ry="7" fill="#78b0e0" opacity="0.65"/></g><use href="#detL"/></g></g><g transform="translate(266.00,289.50) scale(1.04,1.05)"><g clip-path="url(#clipM)"><use href="#sM" fill="#4a60c0"/><g filter="url(#bl)"><ellipse cx="24.5" cy="15.0" rx="12" ry="8" fill="none" stroke="#5a80c8" stroke-width="3" opacity="0.6"/></g><use href="#detM"/><ellipse cx="22.5" cy="17.8" rx="3.3" ry="2.2" fill="#4a60c0"/></g></g><g transform="translate(354.40,289.50) scale(-1.04,1.05)"><g clip-path="url(#clipM)"><use href="#sM" fill="#4a60c0"/><g filter="url(#bl)"><ellipse cx="24.5" cy="15.0" rx="12" ry="8" fill="none" stroke="#5a80c8" stroke-width="3" opacity="0.6"/></g><use href="#detM"/><ellipse cx="22.5" cy="17.8" rx="3.3" ry="2.2" fill="#4a60c0"/></g></g><g transform="translate(266.00,335.00) scale(1.0,1.02)"><g clip-path="url(#clipL)"><use href="#sL" fill="#e8eab0"/><g filter="url(#bl)"><ellipse cx="24" cy="26" rx="12" ry="5" fill="#a8d8a8" opacity="0.95"/><ellipse cx="40" cy="18" rx="4" ry="7" fill="#a0d4a8" opacity="0.9"/><ellipse cx="8" cy="22" rx="6" ry="3" fill="#c8e0a8" opacity="0.6"/></g><use href="#detL"/></g></g><g transform="translate(353.80,335.00) scale(-1.0,1.02)"><g clip-path="url(#clipL)"><use href="#sL" fill="#e8eab0"/><g filter="url(#bl)"><ellipse cx="24" cy="26" rx="12" ry="5" fill="#a8d8a8" opacity="0.95"/><ellipse cx="40" cy="18" rx="4" ry="7" fill="#a0d4a8" opacity="0.9"/><ellipse cx="8" cy="22" rx="6" ry="3" fill="#c8e0a8" opacity="0.6"/></g><use href="#detL"/></g></g><g transform="translate(266.00,367.80) scale(1.04,1.05)"><g clip-path="url(#clipM)"><use href="#sM" fill="#e4e8b0"/><g filter="url(#bl)"><ellipse cx="4" cy="17" rx="7" ry="10" fill="#98d4b0" opacity="0.95"/><ellipse cx="20" cy="24" rx="10" ry="5" fill="#a0d6ac" opacity="0.95"/><ellipse cx="23.5" cy="16.0" rx="11" ry="7" fill="none" stroke="#a8d8a8" stroke-width="3" opacity="0.8"/></g><use href="#detM"/><ellipse cx="22.5" cy="17.8" rx="3.3" ry="2.2" fill="#b0d8a8"/></g></g><g transform="translate(354.40,367.80) scale(-1.04,1.05)"><g clip-path="url(#clipM)"><use href="#sM" fill="#e4e8b0"/><g filter="url(#bl)"><ellipse cx="4" cy="17" rx="7" ry="10" fill="#98d4b0" opacity="0.95"/><ellipse cx="20" cy="24" rx="10" ry="5" fill="#a0d6ac" opacity="0.95"/><ellipse cx="23.5" cy="16.0" rx="11" ry="7" fill="none" stroke="#a8d8a8" stroke-width="3" opacity="0.8"/></g><use href="#detM"/><ellipse cx="22.5" cy="17.8" rx="3.3" ry="2.2" fill="#b0d8a8"/></g></g><g transform="translate(386.00,24.00) scale(1.0,1.02)"><g clip-path="url(#clipL)"><use href="#sL" fill="#f0dc9a"/><g filter="url(#bl)"><ellipse cx="2" cy="14" rx="7" ry="11" fill="#d85a30" opacity="0.95"/><ellipse cx="10" cy="5" rx="6" ry="4" fill="#e07838" opacity="0.7"/><ellipse cx="8" cy="22" rx="7" ry="3" fill="#d86838" opacity="0.6"/></g><use href="#detL"/></g></g><g transform="translate(473.80,24.00) scale(-1.0,1.02)"><g clip-path="url(#clipL)"><use href="#sL" fill="#f0dc9a"/><g filter="url(#bl)"><ellipse cx="2" cy="14" rx="7" ry="11" fill="#d85a30" opacity="0.95"/><ellipse cx="10" cy="5" rx="6" ry="4" fill="#e07838" opacity="0.7"/><ellipse cx="8" cy="22" rx="7" ry="3" fill="#d86838" opacity="0.6"/></g><use href="#detL"/></g></g><g transform="translate(386.00,56.80) scale(1.04,1.05)"><g clip-path="url(#clipM)"><use href="#sM" fill="#f0d488"/><g filter="url(#bl)"><ellipse cx="25.5" cy="16.0" rx="12" ry="8" fill="none" stroke="#e06a3c" stroke-width="4" opacity="0.9"/><ellipse cx="39" cy="16" rx="4" ry="8" fill="#d84838" opacity="0.95"/><ellipse cx="24" cy="4" rx="10" ry="4" fill="#e8c070" opacity="0.6"/></g><use href="#detM"/><ellipse cx="22.5" cy="17.8" rx="3.3" ry="2.2" fill="#e8a050"/></g></g><g transform="translate(474.40,56.80) scale(-1.04,1.05)"><g clip-path="url(#clipM)"><use href="#sM" fill="#f0d488"/><g filter="url(#bl)"><ellipse cx="25.5" cy="16.0" rx="12" ry="8" fill="none" stroke="#e06a3c" stroke-width="4" opacity="0.9"/><ellipse cx="39" cy="16" rx="4" ry="8" fill="#d84838" opacity="0.95"/><ellipse cx="24" cy="4" rx="10" ry="4" fill="#e8c070" opacity="0.6"/></g><use href="#detM"/><ellipse cx="22.5" cy="17.8" rx="3.3" ry="2.2" fill="#e8a050"/></g></g><g transform="translate(386.00,103.00) scale(1.0,1.02)"><g clip-path="url(#clipL)"><use href="#sL" fill="#acd4aa"/><g filter="url(#bl)"><ellipse cx="40" cy="17" rx="4" ry="7" fill="#e6e4a2" opacity="0.9"/><ellipse cx="24" cy="24" rx="8" ry="4" fill="#d0e0a0" opacity="0.6"/><ellipse cx="29" cy="12" rx="9" ry="8" fill="#d8e6b4" opacity="0.7"/></g><use href="#detL"/></g></g><g transform="translate(473.80,103.00) scale(-1.0,1.02)"><g clip-path="url(#clipL)"><use href="#sL" fill="#acd4aa"/><g filter="url(#bl)"><ellipse cx="40" cy="17" rx="4" ry="7" fill="#e6e4a2" opacity="0.9"/><ellipse cx="24" cy="24" rx="8" ry="4" fill="#d0e0a0" opacity="0.6"/><ellipse cx="29" cy="12" rx="9" ry="8" fill="#d8e6b4" opacity="0.7"/></g><use href="#detL"/></g></g><g transform="translate(386.00,135.80) scale(1.04,1.05)"><g clip-path="url(#clipM)"><use href="#sM" fill="#c0dca8"/><g filter="url(#bl)"><ellipse cx="4" cy="18" rx="7" ry="9" fill="#e8e4a0" opacity="0.95"/><ellipse cx="10" cy="6" rx="6" ry="4" fill="#e0e4a8" opacity="0.6"/><ellipse cx="26.5" cy="16.0" rx="12" ry="8" fill="none" stroke="#98ccb0" stroke-width="3.5" opacity="0.7"/><ellipse cx="39" cy="15" rx="4" ry="8" fill="#a0d0b0" opacity="0.7"/></g><use href="#detM"/><ellipse cx="22.5" cy="17.8" rx="3.3" ry="2.2" fill="#d0e0a0"/></g></g><g transform="translate(474.40,135.80) scale(-1.04,1.05)"><g clip-path="url(#clipM)"><use href="#sM" fill="#c0dca8"/><g filter="url(#bl)"><ellipse cx="4" cy="18" rx="7" ry="9" fill="#e8e4a0" opacity="0.95"/><ellipse cx="10" cy="6" rx="6" ry="4" fill="#e0e4a8" opacity="0.6"/><ellipse cx="26.5" cy="16.0" rx="12" ry="8" fill="none" stroke="#98ccb0" stroke-width="3.5" opacity="0.7"/><ellipse cx="39" cy="15" rx="4" ry="8" fill="#a0d0b0" opacity="0.7"/></g><use href="#detM"/><ellipse cx="22.5" cy="17.8" rx="3.3" ry="2.2" fill="#d0e0a0"/></g></g><g transform="translate(386.00,182.00) scale(1.0,1.02)"><g clip-path="url(#clipL)"><use href="#sL" fill="#88c8b0"/><g filter="url(#bl)"><ellipse cx="3" cy="14" rx="6" ry="11" fill="#4a88c4" opacity="0.95"/><ellipse cx="24" cy="19" rx="9" ry="7" fill="#dce6a8" opacity="0.85"/><ellipse cx="40" cy="16" rx="4" ry="6" fill="#5aa0c4" opacity="0.8"/></g><use href="#detL"/></g></g><g transform="translate(473.80,182.00) scale(-1.0,1.02)"><g clip-path="url(#clipL)"><use href="#sL" fill="#88c8b0"/><g filter="url(#bl)"><ellipse cx="3" cy="14" rx="6" ry="11" fill="#4a88c4" opacity="0.95"/><ellipse cx="24" cy="19" rx="9" ry="7" fill="#dce6a8" opacity="0.85"/><ellipse cx="40" cy="16" rx="4" ry="6" fill="#5aa0c4" opacity="0.8"/></g><use href="#detL"/></g></g><g transform="translate(386.00,214.80) scale(1.04,1.05)"><g clip-path="url(#clipM)"><use href="#sM" fill="#7cc4ac"/><g filter="url(#bl)"><ellipse cx="39" cy="15" rx="4" ry="9" fill="#4a88c4" opacity="0.95"/><ellipse cx="26.5" cy="15.0" rx="13" ry="9" fill="none" stroke="#5a9ec4" stroke-width="3.5" opacity="0.75"/></g><use href="#detM"/><ellipse cx="22.5" cy="17.8" rx="3.3" ry="2.2" fill="#70c0a8"/></g></g><g transform="translate(474.40,214.80) scale(-1.04,1.05)"><g clip-path="url(#clipM)"><use href="#sM" fill="#7cc4ac"/><g filter="url(#bl)"><ellipse cx="39" cy="15" rx="4" ry="9" fill="#4a88c4" opacity="0.95"/><ellipse cx="26.5" cy="15.0" rx="13" ry="9" fill="none" stroke="#5a9ec4" stroke-width="3.5" opacity="0.75"/></g><use href="#detM"/><ellipse cx="22.5" cy="17.8" rx="3.3" ry="2.2" fill="#70c0a8"/></g></g><g transform="translate(386.00,256.70) scale(1.0,1.02)"><g clip-path="url(#clipL)"><use href="#sL" fill="#4a80c8"/><g filter="url(#bl)"><ellipse cx="24" cy="10" rx="9" ry="7" fill="#7ab8e0" opacity="0.65"/></g><use href="#detL"/></g></g><g transform="translate(473.80,256.70) scale(-1.0,1.02)"><g clip-path="url(#clipL)"><use href="#sL" fill="#4a80c8"/><g filter="url(#bl)"><ellipse cx="24" cy="10" rx="9" ry="7" fill="#7ab8e0" opacity="0.65"/></g><use href="#detL"/></g></g><g transform="translate(386.00,289.50) scale(1.04,1.05)"><g clip-path="url(#clipM)"><use href="#sM" fill="#4a6ec4"/><g filter="url(#bl)"><ellipse cx="24.5" cy="15.0" rx="12" ry="8" fill="none" stroke="#5a84c8" stroke-width="3" opacity="0.5"/></g><use href="#detM"/><ellipse cx="22.5" cy="17.8" rx="3.3" ry="2.2" fill="#4a6ec4"/></g></g><g transform="translate(474.40,289.50) scale(-1.04,1.05)"><g clip-path="url(#clipM)"><use href="#sM" fill="#4a6ec4"/><g filter="url(#bl)"><ellipse cx="24.5" cy="15.0" rx="12" ry="8" fill="none" stroke="#5a84c8" stroke-width="3" opacity="0.5"/></g><use href="#detM"/><ellipse cx="22.5" cy="17.8" rx="3.3" ry="2.2" fill="#4a6ec4"/></g></g><g transform="translate(386.00,335.00) scale(1.0,1.02)"><g clip-path="url(#clipL)"><use href="#sL" fill="#8cc4ac"/><g filter="url(#bl)"><ellipse cx="22" cy="3" rx="12" ry="5" fill="#d0dca0" opacity="0.8"/><ellipse cx="30" cy="14" rx="8" ry="6" fill="#90c8a8" opacity="0.6"/></g><use href="#detL"/></g></g><g transform="translate(473.80,335.00) scale(-1.0,1.02)"><g clip-path="url(#clipL)"><use href="#sL" fill="#8cc4ac"/><g filter="url(#bl)"><ellipse cx="22" cy="3" rx="12" ry="5" fill="#d0dca0" opacity="0.8"/><ellipse cx="30" cy="14" rx="8" ry="6" fill="#90c8a8" opacity="0.6"/></g><use href="#detL"/></g></g><g transform="translate(386.00,367.80) scale(1.04,1.05)"><g clip-path="url(#clipM)"><use href="#sM" fill="#8cc4ae"/><g filter="url(#bl)"><ellipse cx="22" cy="3" rx="12" ry="4" fill="#c8d8a0" opacity="0.8"/></g><use href="#detM"/><ellipse cx="22.5" cy="17.8" rx="3.3" ry="2.2" fill="#8cc4ae"/></g></g><g transform="translate(474.40,367.80) scale(-1.04,1.05)"><g clip-path="url(#clipM)"><use href="#sM" fill="#8cc4ae"/><g filter="url(#bl)"><ellipse cx="22" cy="3" rx="12" ry="4" fill="#c8d8a0" opacity="0.8"/></g><use href="#detM"/><ellipse cx="22.5" cy="17.8" rx="3.3" ry="2.2" fill="#8cc4ae"/></g></g><g transform="translate(502.80,24.00) scale(1.0,1.02)"><g clip-path="url(#clipL)"><use href="#sL" fill="#8cc8a8"/><g filter="url(#bl)"><ellipse cx="28" cy="9" rx="16" ry="12" fill="#4a8cc4" opacity="0.95"/><ellipse cx="4" cy="17" rx="6" ry="8" fill="#a0d4a4" opacity="0.8"/><ellipse cx="24" cy="25" rx="8" ry="3" fill="#88c8b0" opacity="0.7"/></g><use href="#detL"/></g></g><g transform="translate(590.60,24.00) scale(-1.0,1.02)"><g clip-path="url(#clipL)"><use href="#sL" fill="#8cc8a8"/><g filter="url(#bl)"><ellipse cx="28" cy="9" rx="16" ry="12" fill="#4a8cc4" opacity="0.95"/><ellipse cx="4" cy="17" rx="6" ry="8" fill="#a0d4a4" opacity="0.8"/><ellipse cx="24" cy="25" rx="8" ry="3" fill="#88c8b0" opacity="0.7"/></g><use href="#detL"/></g></g><g transform="translate(502.80,56.80) scale(1.04,1.05)"><g clip-path="url(#clipM)"><use href="#sM" fill="#88c8a8"/><g filter="url(#bl)"><ellipse cx="4" cy="14" rx="8" ry="11" fill="#4a8cc8" opacity="0.95"/><ellipse cx="16" cy="3" rx="10" ry="4" fill="#4a94c0" opacity="0.85"/><ellipse cx="38" cy="16" rx="5" ry="8" fill="#a8d8a0" opacity="0.85"/><ellipse cx="26.5" cy="15.0" rx="12" ry="8" fill="none" stroke="#70bcb0" stroke-width="3" opacity="0.6"/></g><use href="#detM"/><ellipse cx="22.5" cy="17.8" rx="3.3" ry="2.2" fill="#60b0b0"/></g></g><g transform="translate(591.20,56.80) scale(-1.04,1.05)"><g clip-path="url(#clipM)"><use href="#sM" fill="#88c8a8"/><g filter="url(#bl)"><ellipse cx="4" cy="14" rx="8" ry="11" fill="#4a8cc8" opacity="0.95"/><ellipse cx="16" cy="3" rx="10" ry="4" fill="#4a94c0" opacity="0.85"/><ellipse cx="38" cy="16" rx="5" ry="8" fill="#a8d8a0" opacity="0.85"/><ellipse cx="26.5" cy="15.0" rx="12" ry="8" fill="none" stroke="#70bcb0" stroke-width="3" opacity="0.6"/></g><use href="#detM"/><ellipse cx="22.5" cy="17.8" rx="3.3" ry="2.2" fill="#60b0b0"/></g></g><g transform="translate(502.80,103.00) scale(1.0,1.02)"><g clip-path="url(#clipL)"><use href="#sL" fill="#a2d2aa"/><g filter="url(#bl)"><ellipse cx="22" cy="4" rx="10" ry="5" fill="#78c0b2" opacity="0.6"/><ellipse cx="24" cy="25" rx="8" ry="3" fill="#c0dca0" opacity="0.5"/></g><use href="#detL"/></g></g><g transform="translate(590.60,103.00) scale(-1.0,1.02)"><g clip-path="url(#clipL)"><use href="#sL" fill="#a2d2aa"/><g filter="url(#bl)"><ellipse cx="22" cy="4" rx="10" ry="5" fill="#78c0b2" opacity="0.6"/><ellipse cx="24" cy="25" rx="8" ry="3" fill="#c0dca0" opacity="0.5"/></g><use href="#detL"/></g></g><g transform="translate(502.80,135.80) scale(1.04,1.05)"><g clip-path="url(#clipM)"><use href="#sM" fill="#a4d4ac"/><g filter="url(#bl)"><ellipse cx="24.5" cy="13.0" rx="12" ry="8" fill="none" stroke="#90ccb0" stroke-width="3" opacity="0.5"/><ellipse cx="22" cy="25" rx="6" ry="3" fill="#c8e0a0" opacity="0.6"/></g><use href="#detM"/><ellipse cx="22.5" cy="17.8" rx="3.3" ry="2.2" fill="#a8d4ac"/></g></g><g transform="translate(591.20,135.80) scale(-1.04,1.05)"><g clip-path="url(#clipM)"><use href="#sM" fill="#a4d4ac"/><g filter="url(#bl)"><ellipse cx="24.5" cy="13.0" rx="12" ry="8" fill="none" stroke="#90ccb0" stroke-width="3" opacity="0.5"/><ellipse cx="22" cy="25" rx="6" ry="3" fill="#c8e0a0" opacity="0.6"/></g><use href="#detM"/><ellipse cx="22.5" cy="17.8" rx="3.3" ry="2.2" fill="#a8d4ac"/></g></g><g transform="translate(502.80,182.00) scale(1.0,1.02)"><g clip-path="url(#clipL)"><use href="#sL" fill="#eae6b0"/><g filter="url(#bl)"><ellipse cx="4" cy="12" rx="10" ry="13" fill="#78bcb8" opacity="0.95"/><ellipse cx="12" cy="4" rx="6" ry="4" fill="#80c4b8" opacity="0.8"/><ellipse cx="40" cy="16" rx="5" ry="9" fill="#e07030" opacity="0.95"/><ellipse cx="36" cy="11" rx="4" ry="5" fill="#e8a050" opacity="0.75"/></g><use href="#detL"/></g></g><g transform="translate(590.60,182.00) scale(-1.0,1.02)"><g clip-path="url(#clipL)"><use href="#sL" fill="#eae6b0"/><g filter="url(#bl)"><ellipse cx="4" cy="12" rx="10" ry="13" fill="#78bcb8" opacity="0.95"/><ellipse cx="12" cy="4" rx="6" ry="4" fill="#80c4b8" opacity="0.8"/><ellipse cx="40" cy="16" rx="5" ry="9" fill="#e07030" opacity="0.95"/><ellipse cx="36" cy="11" rx="4" ry="5" fill="#e8a050" opacity="0.75"/></g><use href="#detL"/></g></g><g transform="translate(502.80,214.80) scale(1.04,1.05)"><g clip-path="url(#clipM)"><use href="#sM" fill="#e6e2a8"/><g filter="url(#bl)"><ellipse cx="3" cy="15" rx="5" ry="10" fill="#e06030" opacity="0.95"/><ellipse cx="9" cy="12" rx="4" ry="10" fill="#e8c070" opacity="0.8"/><ellipse cx="36" cy="14" rx="8" ry="10" fill="#98d0b8" opacity="0.95"/><ellipse cx="22" cy="3" rx="5" ry="3" fill="#c8e0a8" opacity="0.7"/></g><use href="#detM"/><ellipse cx="22.5" cy="17.8" rx="3.3" ry="2.2" fill="#e8e0a0"/></g></g><g transform="translate(591.20,214.80) scale(-1.04,1.05)"><g clip-path="url(#clipM)"><use href="#sM" fill="#e6e2a8"/><g filter="url(#bl)"><ellipse cx="3" cy="15" rx="5" ry="10" fill="#e06030" opacity="0.95"/><ellipse cx="9" cy="12" rx="4" ry="10" fill="#e8c070" opacity="0.8"/><ellipse cx="36" cy="14" rx="8" ry="10" fill="#98d0b8" opacity="0.95"/><ellipse cx="22" cy="3" rx="5" ry="3" fill="#c8e0a8" opacity="0.7"/></g><use href="#detM"/><ellipse cx="22.5" cy="17.8" rx="3.3" ry="2.2" fill="#e8e0a0"/></g></g><g transform="translate(502.80,256.70) scale(1.0,1.02)"><g clip-path="url(#clipL)"><use href="#sL" fill="#4a8ac8"/><g filter="url(#bl)"><ellipse cx="27" cy="9" rx="11" ry="9" fill="#80c8c0" opacity="0.9"/><ellipse cx="34" cy="14" rx="5" ry="5" fill="#70bcc8" opacity="0.6"/></g><use href="#detL"/></g></g><g transform="translate(590.60,256.70) scale(-1.0,1.02)"><g clip-path="url(#clipL)"><use href="#sL" fill="#4a8ac8"/><g filter="url(#bl)"><ellipse cx="27" cy="9" rx="11" ry="9" fill="#80c8c0" opacity="0.9"/><ellipse cx="34" cy="14" rx="5" ry="5" fill="#70bcc8" opacity="0.6"/></g><use href="#detL"/></g></g><g transform="translate(502.80,289.50) scale(1.04,1.05)"><g clip-path="url(#clipM)"><use href="#sM" fill="#4a8cc8"/><g filter="url(#bl)"><ellipse cx="24.5" cy="14.0" rx="13" ry="9" fill="none" stroke="#62aad0" stroke-width="3.5" opacity="0.7"/></g><use href="#detM"/><ellipse cx="22.5" cy="17.8" rx="3.3" ry="2.2" fill="#4a8cc8"/></g></g><g transform="translate(591.20,289.50) scale(-1.04,1.05)"><g clip-path="url(#clipM)"><use href="#sM" fill="#4a8cc8"/><g filter="url(#bl)"><ellipse cx="24.5" cy="14.0" rx="13" ry="9" fill="none" stroke="#62aad0" stroke-width="3.5" opacity="0.7"/></g><use href="#detM"/><ellipse cx="22.5" cy="17.8" rx="3.3" ry="2.2" fill="#4a8cc8"/></g></g><g transform="translate(502.80,335.00) scale(1.0,1.02)"><g clip-path="url(#clipL)"><use href="#sL" fill="#e6e6b2"/><g filter="url(#bl)"><ellipse cx="16" cy="8" rx="13" ry="9" fill="#dc5a34" opacity="0.95"/><ellipse cx="6" cy="14" rx="6" ry="8" fill="#e07840" opacity="0.9"/><ellipse cx="22" cy="3" rx="8" ry="4" fill="#d84a38" opacity="0.8"/><ellipse cx="30" cy="10" rx="6" ry="6" fill="#e8a060" opacity="0.7"/></g><use href="#detL"/></g></g><g transform="translate(590.60,335.00) scale(-1.0,1.02)"><g clip-path="url(#clipL)"><use href="#sL" fill="#e6e6b2"/><g filter="url(#bl)"><ellipse cx="16" cy="8" rx="13" ry="9" fill="#dc5a34" opacity="0.95"/><ellipse cx="6" cy="14" rx="6" ry="8" fill="#e07840" opacity="0.9"/><ellipse cx="22" cy="3" rx="8" ry="4" fill="#d84a38" opacity="0.8"/><ellipse cx="30" cy="10" rx="6" ry="6" fill="#e8a060" opacity="0.7"/></g><use href="#detL"/></g></g><g transform="translate(502.80,367.80) scale(1.04,1.05)"><g clip-path="url(#clipM)"><use href="#sM" fill="#ece8b4"/><g filter="url(#bl)"><ellipse cx="24" cy="3" rx="12" ry="5" fill="#e0603c" opacity="0.95"/><ellipse cx="25.5" cy="14.0" rx="12" ry="8" fill="none" stroke="#e8a070" stroke-width="3.5" opacity="0.85"/><ellipse cx="12" cy="8" rx="5" ry="5" fill="#e8c890" opacity="0.6"/></g><use href="#detM"/><ellipse cx="22.5" cy="17.8" rx="3.3" ry="2.2" fill="#e8d0a0"/></g></g><g transform="translate(591.20,367.80) scale(-1.04,1.05)"><g clip-path="url(#clipM)"><use href="#sM" fill="#ece8b4"/><g filter="url(#bl)"><ellipse cx="24" cy="3" rx="12" ry="5" fill="#e0603c" opacity="0.95"/><ellipse cx="25.5" cy="14.0" rx="12" ry="8" fill="none" stroke="#e8a070" stroke-width="3.5" opacity="0.85"/><ellipse cx="12" cy="8" rx="5" ry="5" fill="#e8c890" opacity="0.6"/></g><use href="#detM"/><ellipse cx="22.5" cy="17.8" rx="3.3" ry="2.2" fill="#e8d0a0"/></g></g>
</svg>
</body></html>
